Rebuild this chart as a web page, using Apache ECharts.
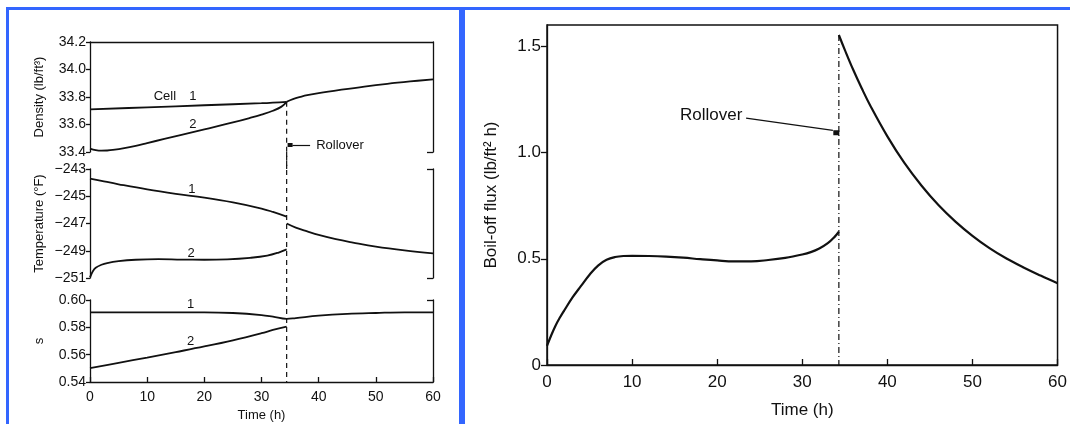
<!DOCTYPE html>
<html><head><meta charset="utf-8">
<script src="https://cdn.jsdelivr.net/npm/echarts@6/dist/echarts.min.js"></script>
<style>
html,body{margin:0;padding:0;background:#fff;}
#chart{position:absolute;left:0;top:0;width:1070px;height:424px;}
.bar{position:absolute;background:#3366ff;z-index:10;}
</style></head><body>
<div id="chart"></div>
<div class="bar" style="left:6px;top:7px;width:1064px;height:3px"></div>
<div class="bar" style="left:6px;top:7px;width:3px;height:417px"></div>
<div class="bar" style="left:459px;top:7px;width:6px;height:417px"></div>
<script>
// ---------- data (time in h) ----------
const rolloverLeft = 34.4;
const rolloverRight = 34.3;
const timeTicks = [0, 10, 20, 30, 40, 50, 60];
const densityTicks = [33.4, 33.6, 33.8, 34.0, 34.2];
const tempTicks = [-251, -249, -247, -245, -243];
const sTicks = [0.54, 0.56, 0.58, 0.60];
const fluxTicks = [0, 0.5, 1.0, 1.5];

const densityCell1 = [[0,33.71],[10,33.725],[20,33.74],[30,33.755],[34.4,33.765]];
const densityCell2 = [[0,33.425],[1,33.414],[2,33.41],[3,33.411],[4,33.415],[6,33.428],[8,33.445],[10,33.465],[13,33.495],[16,33.525],[20,33.565],[25,33.615],[28,33.648],[30,33.672],[32,33.7],[33.5,33.73],[34.4,33.765]];
const densityMixed = [[34.4,33.765],[35.5,33.785],[37,33.803],[38,33.813],[40,33.828],[44,33.853],[48,33.876],[52,33.896],[56,33.913],[60,33.928]];

const tempCell1Before = [[0,-243.7],[2,-243.87],[5,-244.12],[10,-244.5],[15,-244.82],[20,-245.1],[25,-245.45],[30,-245.9],[32,-246.15],[34.4,-246.5]];
const tempCell1After = [[34.4,-247.0],[36,-247.3],[38,-247.58],[40,-247.84],[43,-248.15],[46,-248.4],[50,-248.7],[55,-248.98],[60,-249.2]];
const tempCell2 = [[0,-250.95],[0.5,-250.5],[1,-250.25],[2,-250.03],[3,-249.9],[5,-249.76],[8,-249.66],[12,-249.62],[16,-249.65],[20,-249.66],[24,-249.63],[28,-249.52],[31,-249.36],[33,-249.13],[34.4,-248.9]];

const sCell1 = [[0,0.591],[20,0.591],[25,0.5905],[30,0.589],[32,0.5878],[34.4,0.5862],[36,0.5868],[40,0.5885],[45,0.5898],[50,0.5905],[55,0.591],[60,0.591]];
const sCell2 = [[0,0.5502],[5,0.554],[10,0.5579],[15,0.5619],[20,0.566],[25,0.5705],[30,0.5757],[32,0.5781],[34.4,0.5806]];

const fluxBefore = [[0,0.09],[0.5,0.14],[1,0.185],[1.5,0.222],[2,0.255],[3,0.318],[4,0.372],[5,0.425],[6,0.468],[7,0.495],[8,0.508],[9,0.513],[10,0.514],[12,0.513],[14,0.51],[16,0.505],[18,0.498],[20,0.492],[22,0.488],[24,0.488],[26,0.494],[28,0.504],[30,0.52],[31,0.531],[32,0.548],[33,0.573],[33.8,0.603],[34.3,0.627]];
const fluxAfter = [[34.3,1.553],[35,1.483],[36,1.388],[37,1.301],[38,1.22],[40,1.076],[42,0.951],[44,0.845],[46,0.753],[48,0.675],[50,0.608],[52,0.55],[54,0.501],[56,0.459],[58,0.421],[60,0.385]];

// rollover guide segments (time, value) in each panel's units
const rolloverDensitySeg = [[rolloverLeft, 33.765], [rolloverLeft, 33.276]];
const rolloverTempSeg = [[rolloverLeft, -241.75], [rolloverLeft, -252.6]];
const rolloverSSeg = [[rolloverLeft, 0.60], [rolloverLeft, 0.54]];
const rolloverFluxSeg = [[rolloverRight, 1.553], [rolloverRight, 0]];

// ---------- styling ----------
const FONT = '"Liberation Sans", Arial, Helvetica, sans-serif';
const INK = '#111';
const axLine = {show:true, lineStyle:{color:INK, width:1.3}};
const txt = (size) => ({fontFamily:FONT, fontSize:size, color:INK});
const minus = v => (v < 0 ? '\u2212' + Math.abs(v) : String(v));

function leftY(gridIndex, min, max, ticks, fmt, name, bracketTicks) {
  return [
    {type:'value', gridIndex, position:'left', min, max, name, nameLocation:'middle', nameGap:44,
     nameTextStyle:txt(13), axisLine:axLine,
     axisTick:{show:true, customValues:ticks, length:4, lineStyle:{color:INK, width:1.3}},
     axisLabel:{show:true, customValues:ticks, formatter:fmt, margin:4, ...txt(14)},
     splitLine:{show:false}},
    {type:'value', gridIndex, position:'right', min, max, axisLine:axLine,
     axisTick:{show:true, inside:true, customValues:bracketTicks, length:6, lineStyle:{color:INK, width:1.3}},
     axisLabel:{show:false}, splitLine:{show:false}}
  ];
}

const lineSeries = (data, xi, yi, extra) => Object.assign({
  type:'line', data, xAxisIndex:xi, yAxisIndex:yi, symbol:'none', smooth:0.4,
  lineStyle:{color:INK, width:1.8}, silent:true, clip:false, z:3
}, extra || {});
const guideSeries = (data, xi, yi, dash) => ({
  type:'line', data, xAxisIndex:xi, yAxisIndex:yi, symbol:'none', smooth:false, silent:true, clip:false, z:2,
  lineStyle:{color:INK, width:1.2, type:dash}
});

const textPt = (coord, text, size, pos) => ({
  coord, symbol:'circle', symbolSize:1, itemStyle:{color:'rgba(0,0,0,0)'},
  label:{show:true, formatter:text, position:pos || 'inside', distance:5, ...txt(size)}
});
const dotPt = (coord, size) => ({coord, symbol:'rect', symbolSize:size, itemStyle:{color:INK}, label:{show:false}});
const seg = (a, b) => [{coord:a, lineStyle:{type:'solid', color:INK, width:1.2}}, {coord:b}];

const markLineBase = {silent:true, symbol:['none','none'], label:{show:false}, animation:false};
const markPointBase = {silent:true, animation:false};

const option = {
  animation:false,
  backgroundColor:'#fff',
  grid:[
    {left:90, width:343, top:42, height:110},
    {left:90, width:343, top:169, height:109},
    {left:90, width:343, top:300, height:82},
    {left:547, width:511, top:25, height:340, show:true, borderColor:INK, borderWidth:1.5, backgroundColor:'transparent'}
  ],
  xAxis:[
    {type:'value', gridIndex:0, position:'top', min:0, max:60, axisLine:axLine, axisTick:{show:false}, axisLabel:{show:false}, splitLine:{show:false}},
    {type:'value', gridIndex:1, min:0, max:60, show:false},
    {type:'value', gridIndex:2, position:'bottom', min:0, max:60, name:'Time (h)', nameLocation:'middle', nameGap:27, nameTextStyle:txt(13),
     axisLine:axLine, axisTick:{show:true, inside:true, length:5, customValues:timeTicks, lineStyle:{color:INK, width:1.3}},
     axisLabel:{show:true, customValues:timeTicks, margin:8, ...txt(14)}, splitLine:{show:false}},
    {type:'value', gridIndex:3, position:'bottom', min:0, max:60, name:'Time (h)', nameLocation:'middle', nameGap:37, nameTextStyle:txt(17),
     axisLine:axLine, axisTick:{show:true, inside:true, length:6, customValues:timeTicks, lineStyle:{color:INK, width:1.3}},
     axisLabel:{show:true, customValues:timeTicks, margin:9, ...txt(17)}, splitLine:{show:false}}
  ],
  yAxis:[
    ...leftY(0, 33.4, 34.2, densityTicks, v => v.toFixed(1), 'Density (lb/ft\u00b3)', [33.4]),
    ...leftY(1, -251, -243, tempTicks, minus, 'Temperature (\u00b0F)', [-251, -243]),
    ...leftY(2, 0.54, 0.60, sTicks, v => v.toFixed(2), 's', [0.60]),
    {type:'value', gridIndex:3, position:'left', min:0, max:1.6, name:'Boil-off flux (lb/ft\u00b2 h)', nameLocation:'middle', nameGap:47,
     nameTextStyle:txt(17), axisLine:axLine,
     axisTick:{show:true, length:6, customValues:fluxTicks, lineStyle:{color:INK, width:1.3}},
     axisLabel:{show:true, customValues:fluxTicks, formatter:v => (v === 0 ? '0' : v.toFixed(1)), margin:6, ...txt(17)},
     splitLine:{show:false}}
  ],
  series:[
    // rollover guides
    guideSeries(rolloverDensitySeg, 0, 0, [5,4]),
    guideSeries(rolloverTempSeg, 1, 2, [5,4]),
    guideSeries(rolloverSSeg, 2, 4, [5,4]),
    guideSeries(rolloverFluxSeg, 3, 6, [6,3,1,3]),
    // density
    lineSeries(densityCell1, 0, 0, {
      markPoint:{...markPointBase, data:[textPt([13.1, 33.807], 'Cell', 13), textPt([18.0, 33.807], '1', 13)]}
    }),
    lineSeries(densityCell2, 0, 0, {
      markPoint:{...markPointBase, data:[textPt([18.0, 33.604], '2', 13)]}
    }),
    lineSeries(densityMixed, 0, 0, {
      markPoint:{...markPointBase, data:[dotPt([35.0, 33.451], [5,4]), textPt([38.6, 33.451], 'Rollover', 13, 'right')]},
      markLine:{...markLineBase, data:[seg([35.4, 33.451], [38.5, 33.451])]}
    }),
    // temperature
    lineSeries(tempCell1Before, 1, 2, {
      markPoint:{...markPointBase, data:[textPt([17.8, -244.49], '1', 13)]}
    }),
    lineSeries(tempCell1After, 1, 2),
    lineSeries(tempCell2, 1, 2, {
      markPoint:{...markPointBase, data:[textPt([17.7, -249.18], '2', 13)]}
    }),
    // s
    lineSeries(sCell1, 2, 4, {
      markPoint:{...markPointBase, data:[textPt([17.6, 0.5968], '1', 13)]}
    }),
    lineSeries(sCell2, 2, 4, {
      markPoint:{...markPointBase, data:[textPt([17.6, 0.5695], '2', 13)]}
    }),
    // boil-off flux
    lineSeries(fluxBefore, 3, 6, {
      lineStyle:{color:INK, width:2.2},
      markPoint:{...markPointBase, data:[dotPt([34.0, 1.093], [6,5]), textPt([19.3, 1.176], 'Rollover', 17)]},
      markLine:{...markLineBase, data:[seg([23.4, 1.162], [33.6, 1.104])]}
    }),
    lineSeries(fluxAfter, 3, 6, {lineStyle:{color:INK, width:2.2}})
  ]
};

const chart = echarts.init(document.getElementById('chart'), null, {renderer:'canvas'});
chart.setOption(option);
</script>
</body></html>
